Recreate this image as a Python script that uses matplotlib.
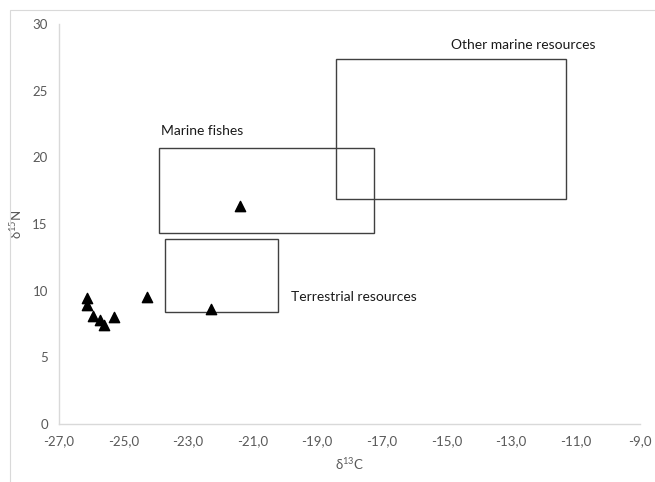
import matplotlib.pyplot as plt
from matplotlib.patches import Rectangle

plt.rcParams['font.family'] = ['Lato', 'DejaVu Sans']
plt.rcParams['mathtext.fontset'] = 'custom'
plt.rcParams['mathtext.rm'] = 'Lato'

# sample values
d13c = [-26.12, -26.12, -25.95, -25.72, -25.6, -25.3, -24.27, -22.29, -21.38]
d15n = [9.45, 8.95, 8.1, 7.8, 7.45, 8.0, 9.55, 8.65, 16.35]

# reference boxes: name, x range, y range, label position
box_names = ['Marine fishes', 'Terrestrial resources', 'Other marine resources']
box_x = [(-23.9, -17.25), (-23.7, -20.2), (-18.42, -11.3)]
box_y = [(14.3, 20.7), (8.4, 13.9), (16.9, 27.4)]
label_xy = [(-23.85, 22.0), (-19.8, 9.5), (-14.85, 28.4)]

xticks = [-27, -25, -23, -21, -19, -17, -15, -13, -11, -9]
yticks = [0, 5, 10, 15, 20, 25, 30]

fig = plt.figure(figsize=(6.55, 4.82), dpi=100)
ax = fig.add_axes([0.090, 0.120, 0.887, 0.830])

# faint chart-area border
fig.add_artist(Rectangle((0.015, -0.01), 0.99, 0.99, transform=fig.transFigure,
                         fill=False, edgecolor='#d9d9d9', linewidth=0.8))

for (x0, x1), (y0, y1) in zip(box_x, box_y):
    ax.add_patch(Rectangle((x0, y0), x1 - x0, y1 - y0, fill=False,
                           edgecolor='#404040', linewidth=1.0))
for name, (tx, ty) in zip(box_names, label_xy):
    ax.text(tx, ty, name, fontsize=10, color='#1a1a1a', va='center', ha='left')

ax.scatter(d13c, d15n, marker='^', s=55, color='black', zorder=3)

ax.set_xlim(-27, -9)
ax.set_ylim(0, 30)
ax.set_xticks(xticks)
ax.set_xticklabels(['%d,0' % t for t in xticks])
ax.set_yticks(yticks)
ax.tick_params(length=0, labelsize=9.5, labelcolor='#595959', pad=8)

for s in ['top', 'right']:
    ax.spines[s].set_visible(False)
for s in ['left', 'bottom']:
    ax.spines[s].set_color('#d9d9d9')
    ax.spines[s].set_linewidth(1.0)

ax.set_xlabel(r'δ$^{13}$C', fontsize=9.5, color='#595959', labelpad=6)
ax.set_ylabel(r'δ$^{15}$N', fontsize=9.5, color='#595959', labelpad=6)

fig.savefig('out.png', dpi=100)
